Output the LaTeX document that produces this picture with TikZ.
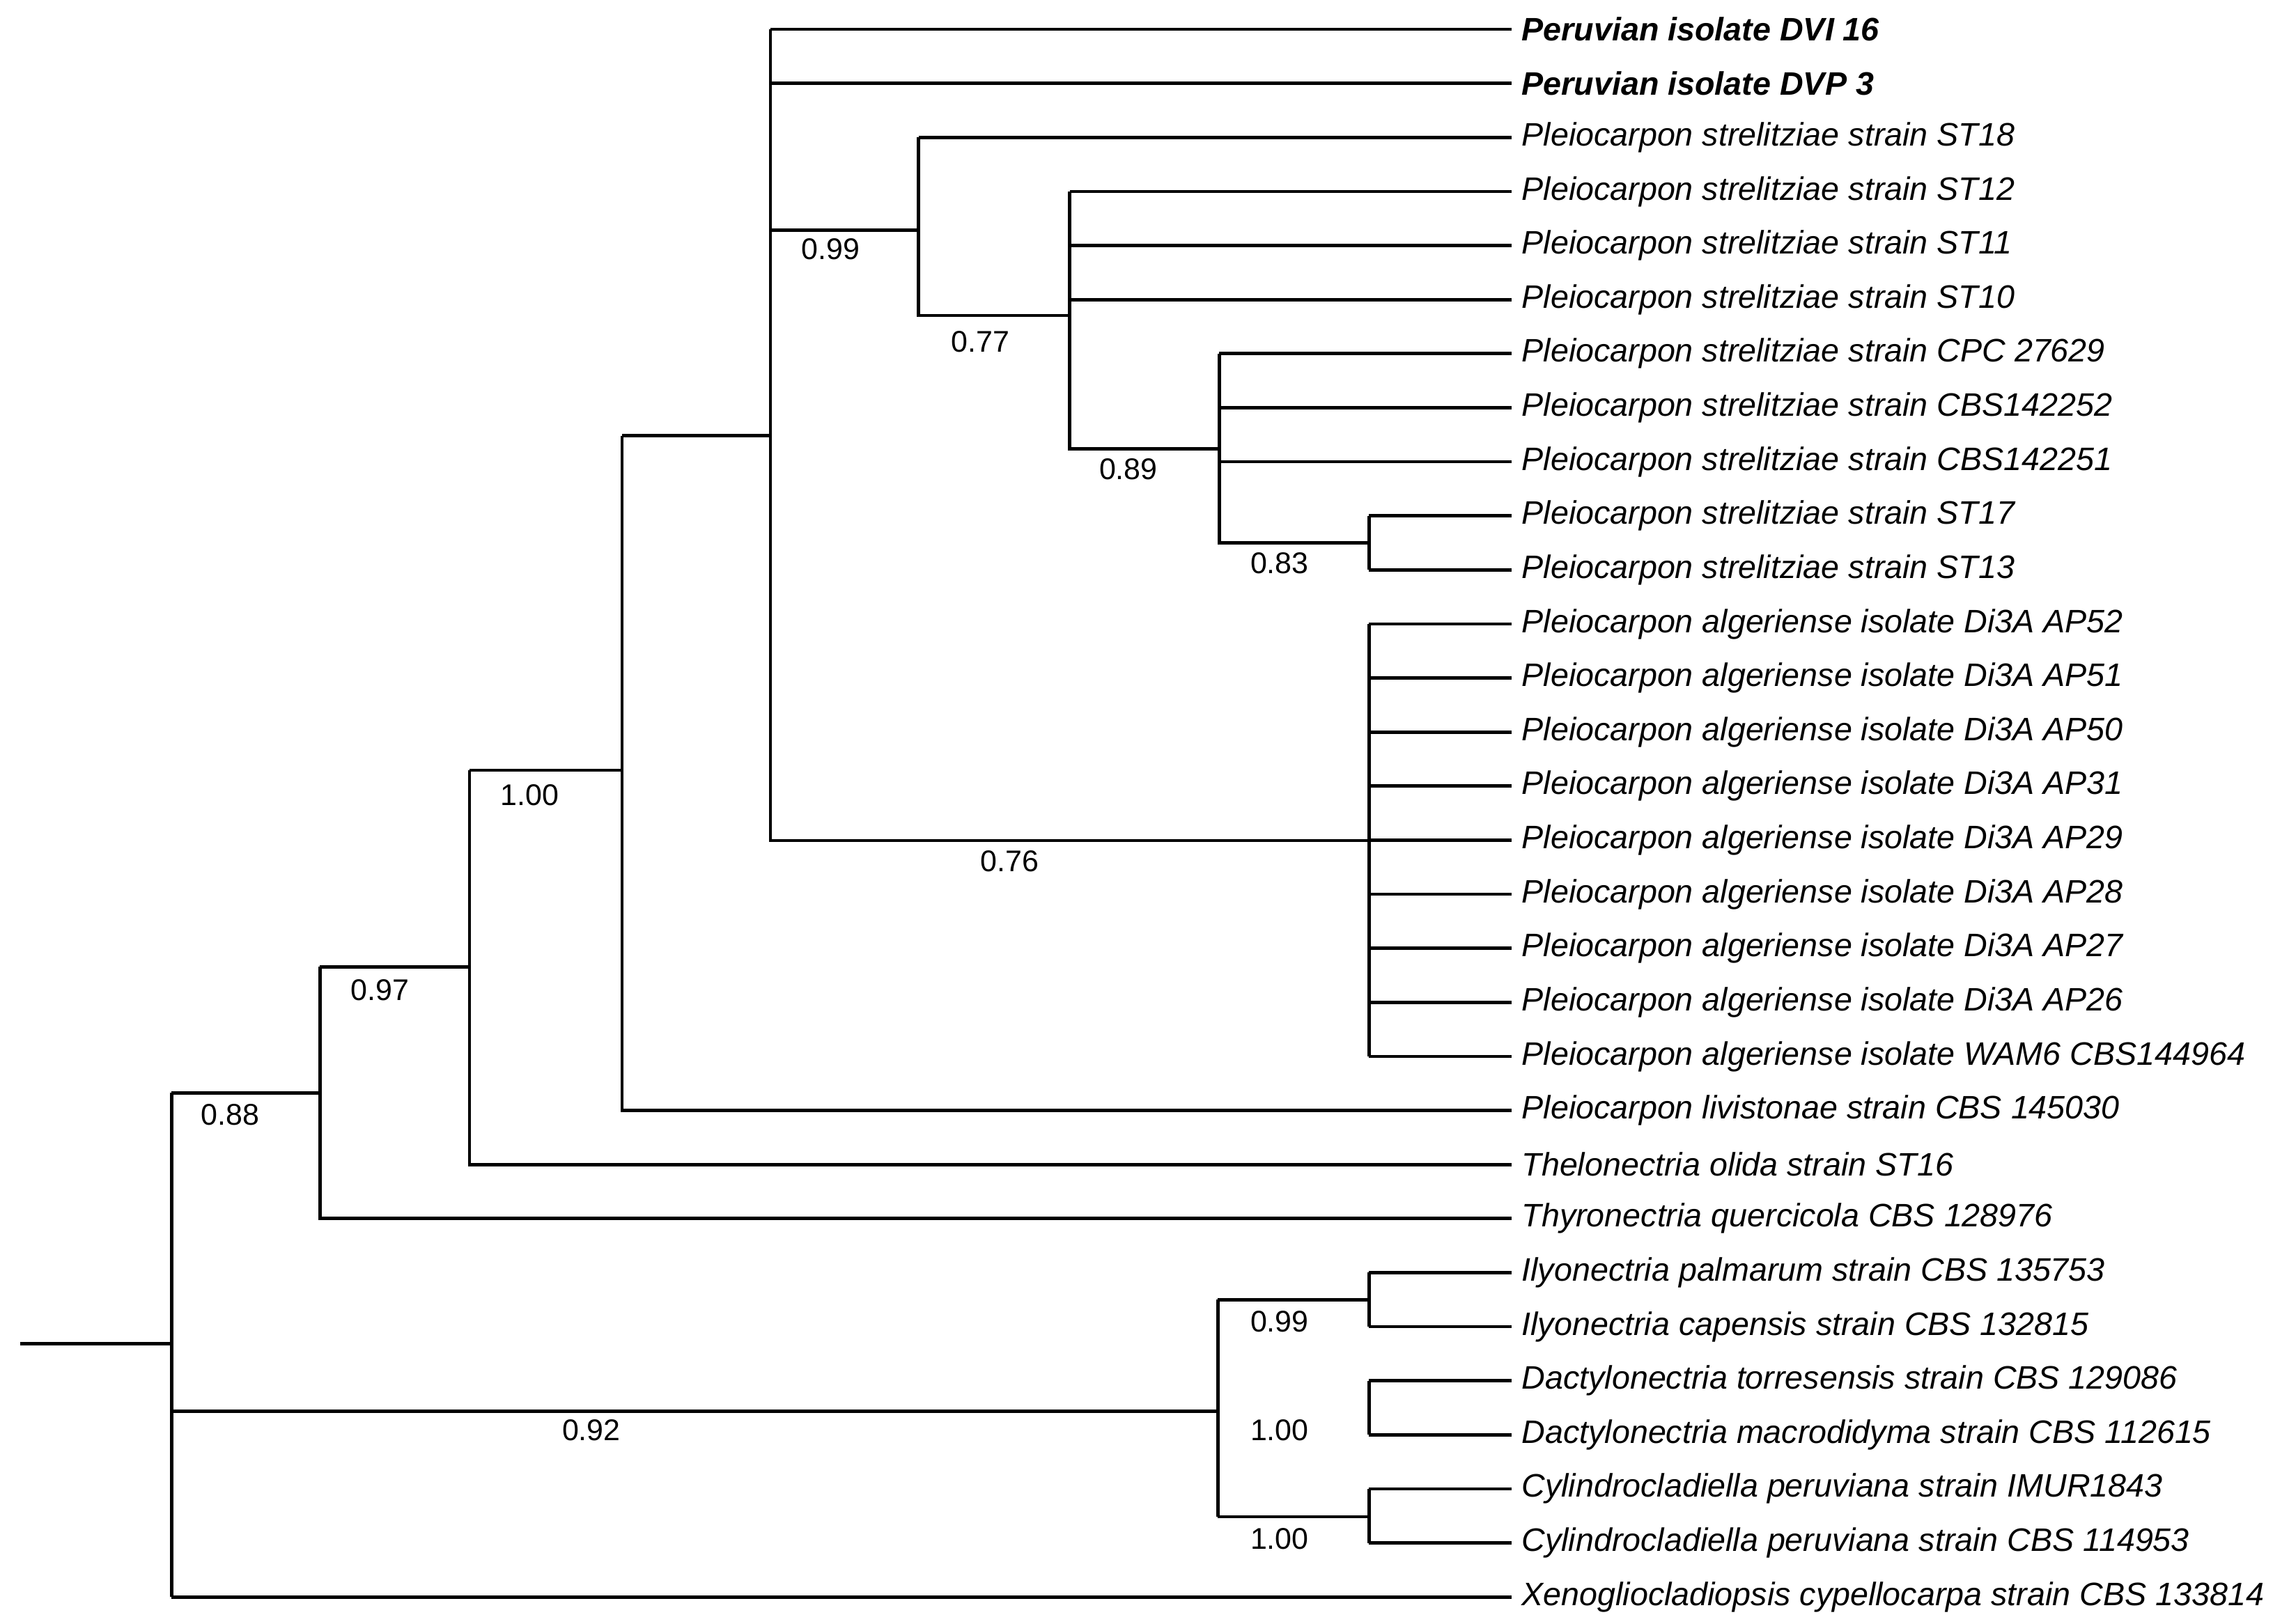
\documentclass[tikz,border=0pt]{standalone}
\usepackage{fontspec}
\setmainfont{Liberation Sans}
\usepackage{tikz}
\usetikzlibrary{positioning}

\begin{document}
\begin{tikzpicture}[x=0.05cm, y=-0.05cm, line width=3.2pt,
    tip/.style={anchor=west, inner xsep=0.3cm, inner ysep=0pt, font=\fontsize{31.5}{36}\selectfont\itshape},
    boot/.style={font=\fontsize{29}{34}\selectfont}]
    \useasboundingbox (0,0) rectangle (1560,1107);

    % tips
    \foreach \i/\name in {1/{\bfseries Peruvian isolate DVI 16}, 2/{\bfseries Peruvian isolate DVP 3},
        3/Pleiocarpon strelitziae strain ST18, 4/Pleiocarpon strelitziae strain ST12,
        5/Pleiocarpon strelitziae strain ST11, 6/Pleiocarpon strelitziae strain ST10,
        7/Pleiocarpon strelitziae strain CPC 27629, 8/Pleiocarpon strelitziae strain CBS142252,
        9/Pleiocarpon strelitziae strain CBS142251, 10/Pleiocarpon strelitziae strain ST17,
        11/Pleiocarpon strelitziae strain ST13, 12/Pleiocarpon algeriense isolate Di3A AP52,
        13/Pleiocarpon algeriense isolate Di3A AP51, 14/Pleiocarpon algeriense isolate Di3A AP50,
        15/Pleiocarpon algeriense isolate Di3A AP31, 16/Pleiocarpon algeriense isolate Di3A AP29,
        17/Pleiocarpon algeriense isolate Di3A AP28, 18/Pleiocarpon algeriense isolate Di3A AP27,
        19/Pleiocarpon algeriense isolate Di3A AP26, 20/Pleiocarpon algeriense isolate WAM6 CBS144964,
        21/Pleiocarpon livistonae strain CBS 145030, 22/Thelonectria olida strain ST16,
        23/Thyronectria quercicola CBS 128976, 24/Ilyonectria palmarum strain CBS 135753,
        25/Ilyonectria capensis strain CBS 132815, 26/Dactylonectria torresensis strain CBS 129086,
        27/Dactylonectria macrodidyma strain CBS 112615, 28/Cylindrocladiella peruviana strain IMUR1843,
        29/Cylindrocladiella peruviana strain CBS 114953, 30/Xenogliocladiopsis cypellocarpa strain CBS 133814}
        \node[tip] (t\i) at (1030, {20+36.85*(\i-1)}) {\name};

    % internal nodes
    \coordinate (root) at (117,916);
    \coordinate (A) at (218,745);
    \coordinate (B) at (320,659);
    \coordinate (C) at (424,525);
    \coordinate (D) at (525,297);
    \coordinate (E) at (626,157);
    \coordinate (G) at (729,215);
    \coordinate (H) at (831,306);
    \coordinate (K) at (933,370);
    \coordinate (F) at (933,573);
    \coordinate (I) at (830,962);
    \coordinate (L) at (933,886);
    \coordinate (M) at (933,962);
    \coordinate (N) at (933,1034);
    \coordinate (stem) at (14,916);

    % edges
    \draw (stem) -- (root);
    \draw (root |- A) -- (root |- t30.west);
    \draw (root |- A) -- (A);
    \draw (root |- I) -- (I);
    \draw (root |- t30.west) -- (t30.west);
    \draw (A |- B) -- (A |- t23.west) -- (t23.west);
    \draw (A |- B) -- (B);
    \draw (B |- C) -- (B |- t22.west) -- (t22.west);
    \draw (B |- C) -- (C);
    \draw (C |- D) -- (C |- t21.west) -- (t21.west);
    \draw (C |- D) -- (D);
    \draw (D |- t1.west) -- (D |- F) -- (F);
    \foreach \i in {1,2} \draw (D |- t\i.west) -- (t\i.west);
    \draw (D |- E) -- (E);
    \draw (E |- t3.west) -- (E |- G) -- (G);
    \draw (E |- t3.west) -- (t3.west);
    \draw (G |- t4.west) -- (G |- H) -- (H);
    \foreach \i in {4,5,6} \draw (G |- t\i.west) -- (t\i.west);
    \draw (H |- t7.west) -- (H |- K) -- (K);
    \foreach \i in {7,8,9} \draw (H |- t\i.west) -- (t\i.west);
    \draw (K |- t10.west) -- (K |- t11.west);
    \foreach \i in {10,11} \draw (K |- t\i.west) -- (t\i.west);
    \draw (F |- t12.west) -- (F |- t20.west);
    \foreach \i in {12,...,20} \draw (F |- t\i.west) -- (t\i.west);
    \draw (I |- L) -- (I |- N);
    \draw (I |- L) -- (L);
    \draw (I |- N) -- (N);
    \draw (L |- t24.west) -- (L |- t25.west);
    \draw (M |- t26.west) -- (M |- t27.west);
    \draw (N |- t28.west) -- (N |- t29.west);
    \foreach \i in {24,...,29} \draw (L |- t\i.west) -- (t\i.west);

    % support values
    \node[boot] (bA) at (157,760) {0.88};
    \node[boot] (bI) at (403,975) {0.92};
    \node[boot] (bB) at (259,675) {0.97};
    \node[boot] (bC) at (361,542) {1.00};
    \node[boot] (bE) at (566,170) {0.99};
    \node[boot] (bF) at (688,587) {0.76};
    \node[boot] (bG) at (668,233) {0.77};
    \node[boot] (bH) at (769,320) {0.89};
    \node[boot] (bK) at (872,384) {0.83};
    \node[boot] (bL) at (872,901) {0.99};
    \node[boot] (bM) at (872,975) {1.00};
    \node[boot] (bN) at (872,1049) {1.00};
\end{tikzpicture}
\end{document}
